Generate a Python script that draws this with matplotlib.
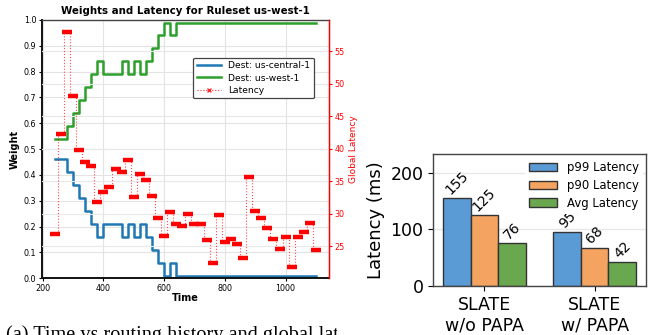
import numpy as np
import matplotlib.pyplot as plt
from matplotlib.lines import Line2D

# ---- left panel data (sampled every 20 time units) ----
times = list(range(240, 1101, 20))
w_central = [0.46, 0.46, 0.41, 0.36, 0.31, 0.26, 0.21, 0.16, 0.21, 0.21,
             0.21, 0.16, 0.21, 0.16, 0.21, 0.16, 0.11, 0.06, 0.01, 0.06,
             0.01, 0.01, 0.01, 0.01, 0.01, 0.01, 0.01, 0.01, 0.01, 0.01,
             0.01, 0.01, 0.01, 0.01, 0.01, 0.01, 0.01, 0.01, 0.01, 0.01,
             0.01, 0.01, 0.01, 0.01]
w_west = [0.54, 0.54, 0.59, 0.64, 0.69, 0.74, 0.79, 0.84, 0.79, 0.79,
          0.79, 0.84, 0.79, 0.84, 0.79, 0.84, 0.89, 0.94, 0.99, 0.94,
          0.99, 0.99, 0.99, 0.99, 0.99, 0.99, 0.99, 0.99, 0.99, 0.99,
          0.99, 0.99, 0.99, 0.99, 0.99, 0.99, 0.99, 0.99, 0.99, 0.99,
          0.99, 0.99, 0.99, 0.99]
latency = [26.9, 42.3, 58.0, 48.1, 39.8, 37.9, 37.4, 31.8, 33.4, 34.1,
           36.9, 36.4, 38.3, 32.6, 36.2, 35.2, 32.7, 29.4, 26.6, 30.3,
           28.4, 28.1, 30.0, 28.4, 28.4, 26.0, 22.5, 29.8, 25.6, 26.2,
           25.3, 23.2, 35.7, 30.5, 29.4, 27.9, 26.1, 24.6, 26.4, 21.9,
           26.4, 27.2, 28.6, 24.4]

# ---- right panel data ----
groups = ['SLATE\nw/o PAPA', 'SLATE\nw/ PAPA']
p99 = [155, 95]
p90 = [125, 68]
avg = [76, 42]

fig = plt.figure(figsize=(6.55, 3.35), dpi=100)

# left: weights + latency
ax = fig.add_axes([0.0637, 0.1693, 0.4386, 0.771])
ax.plot(times, w_central, color='#1f77b4', lw=1.8, drawstyle='steps-post', label='Dest: us-central-1')
ax.plot(times, w_west, color='#2ca02c', lw=1.8, drawstyle='steps-post', label='Dest: us-west-1')
ax.set_xlim(197, 1143)
ax.set_ylim(0, 1)
ax.set_yticks(np.arange(0, 1.01, 0.1))
ax.set_xticks([200, 400, 600, 800, 1000])
ax.grid(True, color='#e3e3e3', lw=0.8)
ax.set_axisbelow(True)
ax.tick_params(labelsize=5.8, length=2.5, width=0.8, pad=1.5)
ax.set_xlabel('Time', fontsize=7, fontweight='bold', labelpad=0)
ax.set_ylabel('Weight', fontsize=7, fontweight='bold', labelpad=3)
ax.set_title('Weights and Latency for Ruleset us-west-1', fontsize=7.4, fontweight='bold', pad=4)
for s in ['left', 'bottom']:
    ax.spines[s].set_linewidth(1.4)
    ax.spines[s].set_color('#111111')
ax.spines['top'].set_linewidth(1.0)
ax.spines['top'].set_color('#444444')

ax2 = ax.twinx()
ax2.plot(times, latency, color='red', ls=':', lw=0.8, drawstyle='steps-mid', alpha=0.7)
ax2.plot(times, latency, ls='none', marker='_', color='red', ms=6.5, mew=3.2)
ax2.set_yticks([25, 30, 35, 40, 45, 50, 55])
ax2.grid(True, axis='y', color='#e8e8e8', lw=0.8)
ax2.tick_params(axis='y', colors='red', labelsize=5.8, length=2.5, width=0.8, pad=1.5)
ax2.set_ylabel('Global Latency', color='red', fontsize=6.5, labelpad=3)
ax2.spines['right'].set_color('red')
ax2.spines['right'].set_linewidth(1.0)
ax2.spines['left'].set_visible(False)
ax2.spines['top'].set_visible(False)
ax2.spines['bottom'].set_visible(False)

handles = ax.get_legend_handles_labels()[0]
handles.append(Line2D([], [], color='red', ls=':', marker='x', ms=3, lw=0.8, alpha=0.8))
leg = ax2.legend(handles, ['Dest: us-central-1', 'Dest: us-west-1', 'Latency'],
                 loc='upper right', bbox_to_anchor=(0.962, 0.872), fontsize=6.6,
                 framealpha=1, edgecolor='#444444', handlelength=2.6, borderpad=0.4,
                 labelspacing=0.35)
leg.get_frame().set_linewidth(0.9)

# caption under left panel, clipped at the panel boundary
cax = fig.add_axes([0.0, 0.0, 0.515, 0.06])
cax.axis('off')
cax.text(0.017, 0.46, '(a) Time vs routing history and global latency',
         family='Liberation Serif', fontsize=14.6, va='top', clip_on=True,
         transform=cax.transAxes)

# right: bar chart
bx = fig.add_axes([0.6615, 0.1463, 0.3243, 0.3931])
x = np.arange(len(groups))
bw = 0.25
series = [(p99, 'p99 Latency', '#5b9bd5'), (p90, 'p90 Latency', '#f4a460'), (avg, 'Avg Latency', '#6aa84f')]
for i, (vals, lab, col) in enumerate(series):
    bars = bx.bar(x + (i - 1) * bw, vals, bw, color=col, edgecolor='#333333', lw=1.0, label=lab)
    for b, v in zip(bars, vals):
        bx.text(b.get_x() + b.get_width() / 2, v + 2, str(v), rotation=45,
                ha='center', va='bottom', fontsize=10)
bx.set_ylim(0, 233)
bx.set_yticks([0, 100, 200])
bx.set_xticks(x)
bx.set_xticklabels(groups, fontsize=12.5)
bx.tick_params(axis='y', labelsize=12.5)
bx.set_ylabel('Latency (ms)', fontsize=13)
bx.grid(True, axis='y', color='#e8e8e8', lw=1)
bx.set_axisbelow(True)
for s in bx.spines.values():
    s.set_color('#444444')
    s.set_linewidth(1.0)
bx.legend(loc='upper right', fontsize=8.4, frameon=True, edgecolor='none', framealpha=1,
          borderaxespad=0.2, handlelength=2.4, labelspacing=0.4)

fig.savefig('out.png', dpi=100)
